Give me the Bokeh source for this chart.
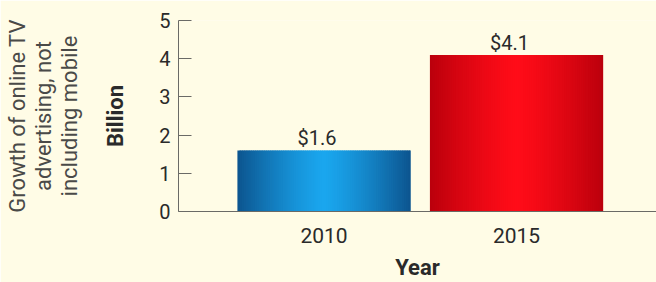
from bokeh.plotting import figure
from bokeh.models import FixedTicker, LinearAxis, ColumnDataSource
from bokeh.core.properties import value
from bokeh.embed import file_html
from bokeh.resources import INLINE

# ---- data ----
years = ["2010", "2015"]
billions = [1.6, 4.1]
bar_labels = ["$1.6", "$4.1"]
y_ticks = [0, 1, 2, 3, 4, 5]
title_lines = ["Growth of online TV", "advertising, not", "including mobile"]

# ---- style ----
FONT = "Roboto"
BG = "#fffce6"
TXT = "#2a2a2a"
AXC = "#6a6a66"
bar_w = 0.9
edge_cols = [(12, 84, 142), (186, 0, 12)]
mid_cols = [(26, 166, 238), (255, 12, 24)]
N = 80

def hexc(c):
    return "#%02x%02x%02x" % tuple(int(round(v)) for v in c)

xs = list(range(len(years)))

p = figure(width=656, height=282, output_backend="svg", toolbar_location=None,
           x_range=(-0.756, 1.727), y_range=(0, 5),
           min_border_left=178, min_border_right=0, min_border_top=20,
           min_border_bottom=70, background_fill_color=BG,
           border_fill_color=BG, outline_line_color=None)
p.xgrid.visible = False
p.ygrid.visible = False

# gradient bars from overlapping strips
ql, qr, qt, qc = [], [], [], []
for i, v in enumerate(billions):
    x0 = xs[i] - bar_w / 2
    x1 = xs[i] + bar_w / 2
    dw = bar_w / N
    for k in range(N):
        t = (k + 0.5) / N
        f = 1 - abs(2 * t - 1) ** 1.3
        c = [edge_cols[i][j] + (mid_cols[i][j] - edge_cols[i][j]) * f for j in range(3)]
        ql.append(x0 + k * dw)
        qr.append(min(x0 + (k + 1.8) * dw, x1))
        qt.append(v)
        qc.append(hexc(c))
p.quad(left=ql, right=qr, top=qt, bottom=0, fill_color=qc, line_color=None)

src = ColumnDataSource(dict(x=xs, y=billions, t=bar_labels))
p.text(x="x", y="y", text="t", source=src, text_align="center",
       text_baseline="alphabetic", y_offset=-12, x_offset=-7,
       text_font=value(FONT), text_font_size="20px", text_color=TXT)

# axes
p.yaxis.ticker = FixedTicker(ticks=y_ticks)
p.yaxis.major_tick_in = 13
p.yaxis.major_tick_out = 0
p.yaxis.minor_tick_line_color = None
p.yaxis.axis_line_color = AXC
p.yaxis.major_tick_line_color = AXC
p.yaxis.major_label_standoff = 8
p.yaxis.major_label_text_font = FONT
p.yaxis.major_label_text_font_size = "20px"
p.yaxis.major_label_text_color = TXT
p.yaxis.axis_label = "Billion"
p.yaxis.axis_label_text_font = FONT
p.yaxis.axis_label_text_font_size = "22px"
p.yaxis.axis_label_text_font_style = "bold"
p.yaxis.axis_label_text_color = TXT
p.yaxis.axis_label_standoff = 28

# the three-line caption, innermost line first, one label-only axis per line
for line, standoff in zip(reversed(title_lines), [19, -2, -2]):
    a = LinearAxis(ticker=FixedTicker(ticks=[]), axis_line_color=None,
                   major_tick_line_color=None, minor_tick_line_color=None,
                   major_label_text_font_size="0px",
                   axis_label=line,
                   axis_label_text_font=FONT, axis_label_text_font_size="22px",
                   axis_label_text_font_style="normal",
                   axis_label_text_color="#4a4a48", axis_label_standoff=standoff)
    p.add_layout(a, "left")

p.xaxis.ticker = FixedTicker(ticks=xs)
p.xaxis.major_label_overrides = {x: y for x, y in zip(xs, years)}
p.xaxis.major_tick_line_color = None
p.xaxis.minor_tick_line_color = None
p.xaxis.axis_line_color = AXC
p.xaxis.major_label_standoff = 10
p.xaxis.major_label_text_font = FONT
p.xaxis.major_label_text_font_size = "21px"
p.xaxis.major_label_text_color = TXT
p.xaxis.axis_label = "Year"
p.xaxis.axis_label_text_font = FONT
p.xaxis.axis_label_text_font_size = "22px"
p.xaxis.axis_label_text_font_style = "bold"
p.xaxis.axis_label_text_color = TXT
p.xaxis.axis_label_standoff = 9

open("out.html", "w").write(file_html(p, INLINE))
